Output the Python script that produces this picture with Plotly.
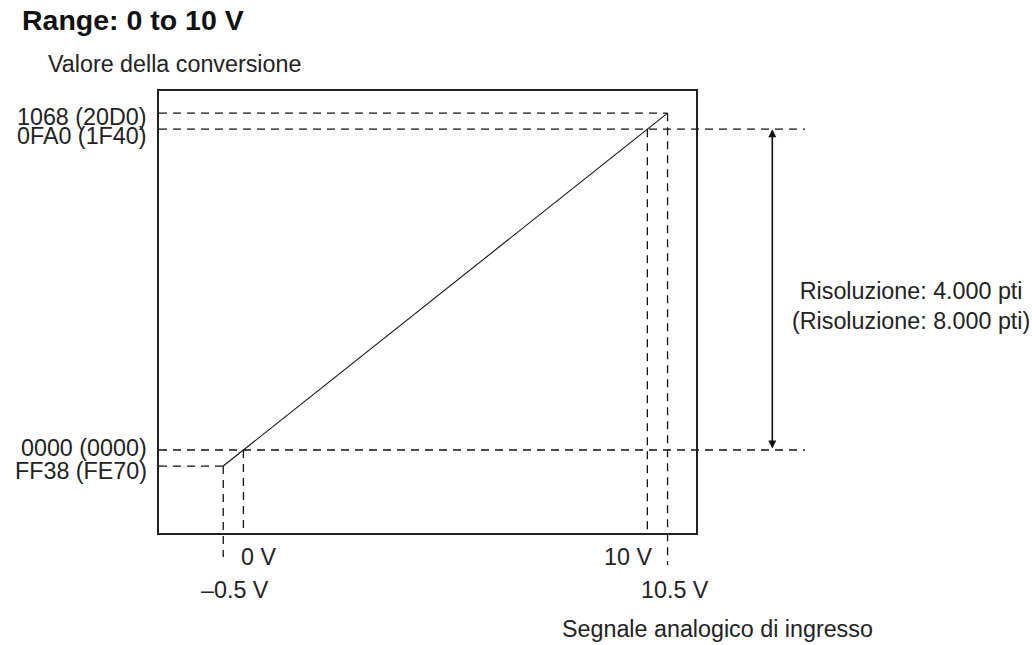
import plotly.graph_objects as go

# ---------------- data ----------------
volts = [-0.5, 0.0, 10.0, 10.5]                 # analog input (V)
codes_4000 = ["FF38", "0000", "0FA0", "1068"]   # conversion value, 4000-pt resolution
codes_8000 = ["FE70", "0000", "1F40", "20D0"]   # conversion value, 8000-pt resolution
volt_labels = ["\u20130.5 V", "0 V", "10 V", "10.5 V"]
title_text = "Range: 0 to 10 V"
y_title = "Valore della conversione"
x_title = "Segnale analogico di ingresso"
res_text = ["Risoluzione: 4.000 pti", "(Risoluzione: 8.000 pti)"]


def s16(h):
    v = int(h, 16)
    return v - 0x10000 if v >= 0x8000 else v


counts = [s16(c) for c in codes_4000]
code_labels = [f"{a} ({b})" for a, b in zip(codes_4000, codes_8000)]

# ---------------- layout geometry ----------------
W, H = 1032, 645
ML, MT, MR, MB = 159, 91, 217, 75
PW, PH = W - ML - MR, H - MT - MB

X_BOX = [-2.09, 11.21]      # frame (inner plot box) in volts
Y_BOX = [-1035, 4476]       # frame in counts
X_MAX = 14.15               # extended drawing area
Y_MIN = -1496
X_LINE_END = 13.9           # right end of extended reference lines
Y_TAIL = [-1334, Y_BOX[0], Y_BOX[0], -1434]   # lower ends of vertical guides

XR = [X_BOX[0], X_MAX]
YR = [Y_MIN, Y_BOX[1]]
x2_dom = [0, (X_BOX[1] - XR[0]) / (XR[1] - XR[0])]
y2_dom = [(Y_BOX[0] - YR[0]) / (YR[1] - YR[0]), 1]


def pxx(px):
    return (px - ML) / PW


def pxy(py):
    return (H - MB - py) / PH


FONT = "Liberation Sans, Arial, Helvetica, sans-serif"
TXT = "#222222"
LINE = "#111111"
DASH = "8px,6px"
FS = 23.3

fig = go.Figure()

# horizontal guides
h_ends = [volts[0], X_LINE_END, X_LINE_END, volts[3]]
for c, xe in zip(counts, h_ends):
    fig.add_trace(go.Scatter(x=[XR[0], xe], y=[c, c], mode="lines",
                             line=dict(color=LINE, width=1.3, dash=DASH),
                             hoverinfo="skip", showlegend=False))
# vertical guides
for v, c, yt in zip(volts, counts, Y_TAIL):
    fig.add_trace(go.Scatter(x=[v, v], y=[c, yt], mode="lines",
                             line=dict(color=LINE, width=1.3, dash=DASH),
                             hoverinfo="skip", showlegend=False))
# conversion characteristic
fig.add_trace(go.Scatter(x=[volts[0], volts[3]], y=[counts[0], counts[3]], mode="lines",
                         line=dict(color=LINE, width=1.1),
                         hoverinfo="skip", showlegend=False))
# frame axes (empty)
fig.add_trace(go.Scatter(x=[], y=[], xaxis="x2", yaxis="y2", showlegend=False))

ann = []
# y labels
y_shifts = [-4.5, 2.5, -7, -3.5]
for c, lab, ys in zip(counts, code_labels, y_shifts):
    ann.append(dict(xref="paper", x=0, xanchor="right", xshift=-10,
                    yref="y", y=c, yanchor="middle", yshift=ys,
                    text=lab, showarrow=False))
# x labels
x_cfg = [("center", 12, -57), ("left", -4, -24), ("right", 7, -24), ("center", 7.5, -57)]
for v, lab, (xa, xs, ys) in zip(volts, volt_labels, x_cfg):
    ann.append(dict(xref="x", x=v, xanchor=xa, xshift=xs,
                    yref="paper", y=y2_dom[0], yanchor="middle", yshift=ys,
                    text=lab, showarrow=False))
# axis titles
ann.append(dict(xref="paper", x=pxx(46), xanchor="left", yref="paper", y=pxy(64),
                yanchor="middle", text=y_title, showarrow=False))
ann.append(dict(xref="paper", x=pxx(560), xanchor="left", yref="paper", y=pxy(629),
                yanchor="middle", text=x_title, showarrow=False))
# resolution
ann.append(dict(xref="paper", x=pxx(911), xanchor="center", yref="paper", y=pxy(306),
                yanchor="middle", text="<br>".join(res_text), align="center",
                showarrow=False))
# double arrow
ann.append(dict(xref="paper", x=pxx(772.3), yref="y", y=counts[2],
                axref="pixel", ax=0, ayref="y", ay=counts[1], text="",
                showarrow=True, arrowside="end+start", arrowhead=2, startarrowhead=2,
                arrowsize=1, startarrowsize=1, arrowwidth=1.6, arrowcolor=LINE))

fig.update_layout(
    width=W, height=H,
    margin=dict(l=ML, r=MR, t=MT, b=MB, pad=0),
    paper_bgcolor="white", plot_bgcolor="rgba(0,0,0,0)",
    font=dict(family=FONT, size=FS, color=TXT),
    title=dict(text=f"<b>{title_text}</b>", x=22 / W, xref="container", xanchor="left",
               y=1 - 20.5 / H, yref="container", yanchor="middle",
               font=dict(family=FONT, size=28.5, color="#111111")),
    xaxis=dict(range=XR, visible=False, fixedrange=True),
    yaxis=dict(range=YR, visible=False, fixedrange=True),
    xaxis2=dict(domain=x2_dom, anchor="y2", range=X_BOX, showline=True, mirror=True,
                linecolor="#222222", linewidth=1.8, showticklabels=False, ticks="",
                showgrid=False, zeroline=False),
    yaxis2=dict(domain=y2_dom, anchor="x2", range=Y_BOX, showline=True, mirror=True,
                linecolor="#222222", linewidth=1.8, showticklabels=False, ticks="",
                showgrid=False, zeroline=False),
    annotations=ann,
    showlegend=False,
)

fig.write_html("out.html",
               config={"displayModeBar": False, "staticPlot": True},
               post_script="document.body.style.margin='0';document.body.style.overflow='hidden';")
